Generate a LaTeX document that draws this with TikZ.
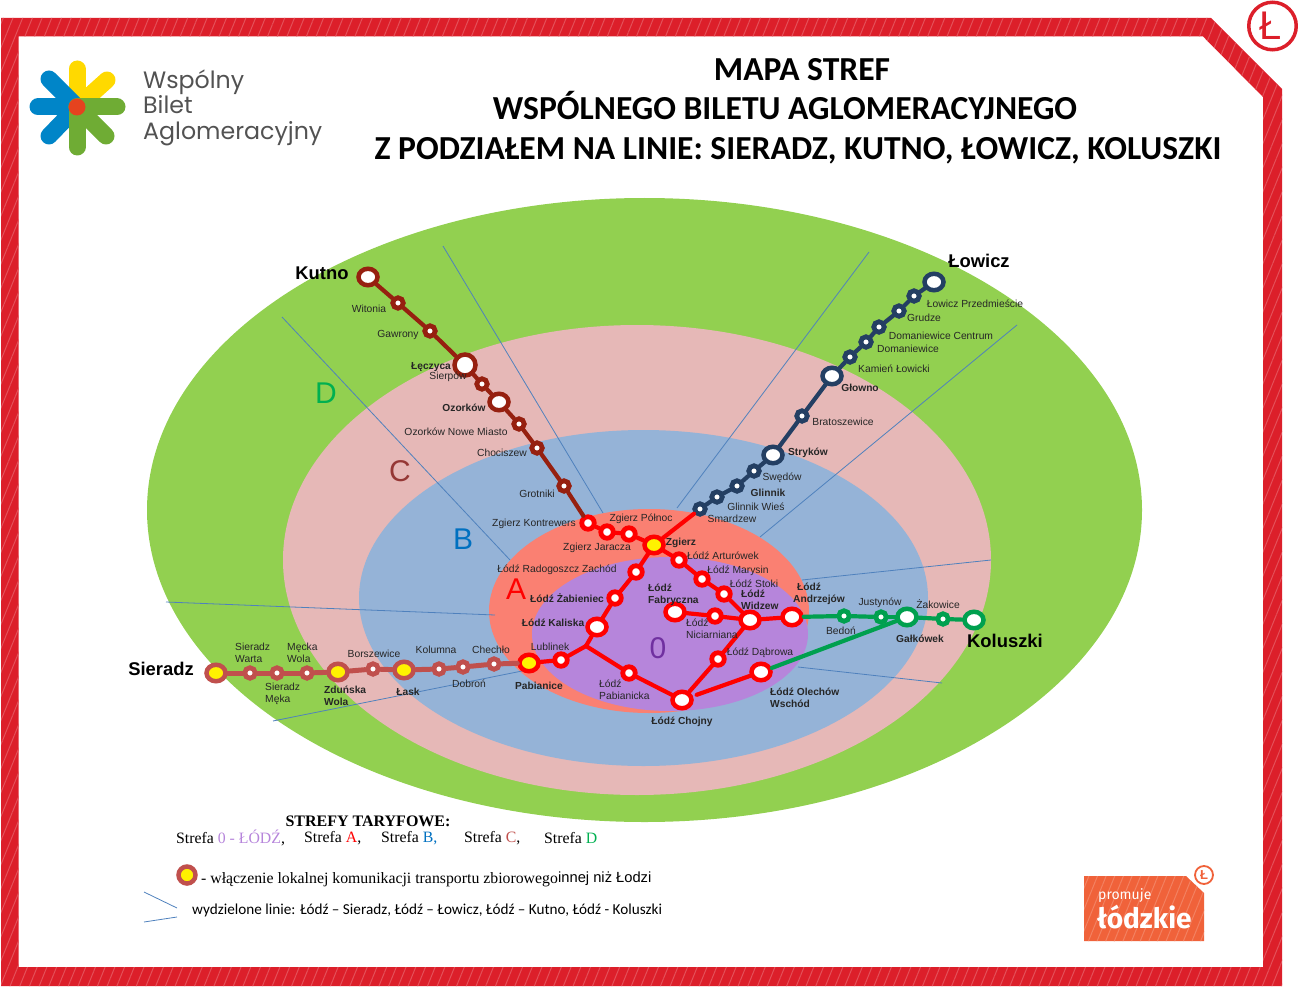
\documentclass[tikz,border=0pt]{standalone}
\usepackage{fontspec}
\setmainfont{Liberation Serif}
\setsansfont{Liberation Sans}
\newfontfamily\titlefont{Carlito}
\newfontfamily\logofont{Poppins}
\newfontfamily\badgefont{Fira Sans}
\usepackage{xcolor}
\definecolor{frameRed}{HTML}{DC1F2A}
\definecolor{zoneD}{HTML}{92D050}
\definecolor{zoneC}{HTML}{E6B8B7}
\definecolor{zoneB}{HTML}{95B3D7}
\definecolor{zoneA}{HTML}{FA8072}
\definecolor{zoneZero}{HTML}{B685DB}
\definecolor{sectorBlue}{HTML}{4F81BD}
\definecolor{kutnoRed}{HTML}{962010}
\definecolor{sieradzRed}{HTML}{C0504D}
\definecolor{lowiczBlue}{HTML}{243F63}
\definecolor{koluszkiGreen}{HTML}{00A04F}
\definecolor{badgeOrange}{HTML}{F0623A}
\definecolor{letterGreen}{HTML}{00B050}
\definecolor{letterRed}{HTML}{953735}
\definecolor{letterBlue}{HTML}{0070C0}
\definecolor{letterViolet}{HTML}{7030A0}
\definecolor{logoYellow}{HTML}{FFD900}
\definecolor{logoBlue}{HTML}{0085C8}
\definecolor{logoGreen}{HTML}{6FAC34}
\definecolor{logoHeartRed}{HTML}{E5431F}
\usetikzlibrary{shapes.geometric, patterns.meta}
\tikzset{
    % Zones - plain filled ellipses
    zone/.style={ellipse, fill=#1, inner sep=0pt},
    % Thin lines between the four corridors
    sector/.style={draw=sectorBlue, line width=0.8pt},
    % Stations - small ring and large ring
    stop/.style={circle, draw=#1, fill=white, line width=4.8pt, minimum size=10.5pt, inner sep=0pt},
    stopred/.style={circle, draw=red, fill=white, line width=4.8pt, minimum size=12.5pt, inner sep=0pt},
    hub/.style={ellipse, draw=#1, fill=white, line width=4.5pt, minimum width=19pt, minimum height=16.5pt, inner sep=0pt},
    hubyellow/.style={hub=#1, fill=yellow},
    % Tracks
    track/.style={draw=#1, line width=4.2pt, line cap=round},
    % Labels
    stoplabel/.style={font=\sffamily\fontsize{10.3}{11.8}\selectfont, text=black!85, inner sep=0pt, align=left},
    hublabel/.style={stoplabel, font=\sffamily\bfseries\fontsize{10.2}{12.4}\selectfont},
    citylabel/.style={font=\sffamily\bfseries\fontsize{18.4}{20}\selectfont, inner sep=0pt},
    zoneletter/.style={font=\sffamily\fontsize{30}{32}\selectfont, text=#1, inner sep=0pt},
    % Title and legend
    titleline/.style={font=\titlefont\bfseries\fontsize{33.6}{36}\selectfont, inner sep=0pt, anchor=base},
    legendtext/.style={font=\rmfamily\fontsize{15.8}{17}\selectfont, inner sep=0pt, anchor=west},
    logoline/.style={font=\logofont\fontsize{23.7}{26}\selectfont, text=black!68, inner sep=0pt, anchor=west},
    petal/.style={draw=#1, line width=17pt, line cap=round},
}
\begin{document}
\begin{tikzpicture}[x=1pt, y=-1pt]
    \useasboundingbox (0,0) rectangle (1298,987);

    % frame
    \fill [frameRed, even odd rule] (1,18) -- (1211,18) -- (1282,89) -- (1282,986) -- (1,986) -- cycle
        (18.5,36.5) -- (1203,36.5) -- (1263,97) -- (1263,967) -- (18.5,967) -- cycle;
    \fill [even odd rule, pattern={Lines[angle=68, distance=9pt, line width=1pt]}, pattern color=frameRed!78!white]
        (1,18) -- (1211,18) -- (1282,89) -- (1282,986) -- (1,986) -- cycle
        (18.5,36.5) -- (1203,36.5) -- (1263,97) -- (1263,967) -- (18.5,967) -- cycle;
    \node (cornerRing) [circle, draw=frameRed, line width=3.5pt, minimum size=47.5pt, inner sep=0pt] at (1272.5,26) {};
    \node (cornerMark) [font=\sffamily\fontsize{40}{42}\selectfont, text=frameRed, inner sep=0pt] at (1271,26) {Ł};

    % logo
    \foreach \px/\py in {77/69, 107/80} \draw [petal=logoYellow] (77,107) -- (\px,\py);
    \foreach \px/\py in {49/79, 38/107, 49/136} \draw [petal=logoBlue] (77,107) -- (\px,\py);
    \foreach \px/\py in {117/107, 106/136, 77/147} \draw [petal=logoGreen] (77,107) -- (\px,\py);
    \node (logoHeart) [circle, fill=logoHeartRed, minimum size=17pt, inner sep=0pt] at (77,107) {};
    \node (logoA) [logoline] at (143,82) {Wspólny};
    \node (logoB) [logoline] at (143,105) {Bilet};
    \node (logoC) [logoline] at (143,134) {Aglomeracyjny};

    % title
    \node (titleA) [titleline] at (802,81) {MAPA STREF};
    \node (titleB) [titleline] at (785,120) {WSPÓLNEGO BILETU AGLOMERACYJNEGO};
    \node (titleC) [titleline] at (798,160) {Z PODZIAŁEM NA LINIE: SIERADZ, KUTNO, ŁOWICZ, KOLUSZKI};

    % zones
    \node (zoneGreen) [zone=zoneD, minimum width=995pt, minimum height=624pt] at (644.5,510) {};
    \node (zonePink) [zone=zoneC, minimum width=708pt, minimum height=470pt] at (637,560) {};
    \node (zoneBlue) [zone=zoneB, minimum width=569pt, minimum height=336pt] at (643.5,598) {};
    \node (zoneSalmon) [zone=zoneA, minimum width=320pt, minimum height=204pt] at (649,611) {};
    \node (zonePurple) [zone=zoneZero, minimum width=276pt, minimum height=154pt] at (670,634) {};

    % sector lines
    \coordinate (sa) at (443,246); \coordinate (sb) at (603,513);
    \coordinate (sc) at (282,317); \coordinate (sd) at (510,560);
    \coordinate (se) at (869,252); \coordinate (sf) at (677,508);
    \coordinate (sg) at (1017,325); \coordinate (sh) at (760,537);
    \coordinate (si) at (166,602); \coordinate (sj) at (495,615);
    \coordinate (sk) at (273,721); \coordinate (sl) at (537,668);
    \coordinate (sm) at (991,560); \coordinate (sn) at (802,580);
    \coordinate (so) at (798,667); \coordinate (sp) at (942,683);
    \draw [sector] (sa) -- (sb);
    \draw [sector] (sc) -- (sd);
    \draw [sector] (se) -- (sf);
    \draw [sector] (sg) -- (sh);
    \draw [sector] (si) -- (sj);
    \draw [sector] (sk) -- (sl);
    \draw [sector] (sm) -- (sn);
    \draw [sector] (so) -- (sp);

    % zone letters
    \node (letterD) [zoneletter=letterGreen] at (326,393) {D};
    \node (letterC) [zoneletter=letterRed] at (400,471) {C};
    \node (letterB) [zoneletter=letterBlue] at (463,539) {B};
    \node (letterA) [zoneletter=red] at (516,589) {A};
    \node (letterZero) [zoneletter=letterViolet] at (658,648) {0};

    % Kutno line
    \node (kutno) [hub=kutnoRed] at (368,277) {};
    \node (witonia) [stop=kutnoRed] at (398,303) {};
    \node (gawrony) [stop=kutnoRed] at (430,331) {};
    \node (leczyca) [circle, draw=kutnoRed, fill=white, line width=4.5pt, minimum size=21pt, inner sep=0pt] at (465,365) {};
    \node (sierpow) [stop=kutnoRed] at (482,384) {};
    \node (ozorkow) [hub=kutnoRed] at (499,402) {};
    \node (ozorkowNowe) [stop=kutnoRed] at (519,424) {};
    \node (chociszew) [stop=kutnoRed] at (537,448) {};
    \node (grotniki) [stop=kutnoRed] at (564,486) {};

    % Lowicz line
    \node (lowicz) [hub=lowiczBlue] at (934,282) {};
    \node (przedmiescie) [stop=lowiczBlue] at (914,296) {};
    \node (grudze) [stop=lowiczBlue] at (899,311) {};
    \node (domCentrum) [stop=lowiczBlue] at (879,327) {};
    \node (domaniewice) [stop=lowiczBlue] at (866,342) {};
    \node (kamien) [stop=lowiczBlue] at (850,357) {};
    \node (glowno) [hub=lowiczBlue] at (832,376) {};
    \node (bratoszewice) [stop=lowiczBlue] at (802,416) {};
    \node (strykow) [hub=lowiczBlue] at (773,455) {};
    \node (swedow) [stop=lowiczBlue] at (754,471) {};
    \node (glinnik) [stop=lowiczBlue] at (737,486) {};
    \node (glinnikWies) [stop=lowiczBlue] at (717,497) {};
    \node (smardzew) [stop=lowiczBlue] at (700,509) {};

    % Sieradz line
    \node (sieradz) [hubyellow=sieradzRed] at (216,673) {};
    \node (warta) [stop=sieradzRed] at (250,673) {};
    \node (meka) [stop=sieradzRed] at (277,673) {};
    \node (meckaWola) [stop=sieradzRed] at (307,673) {};
    \node (zdunska) [hubyellow=sieradzRed] at (338,672) {};
    \node (borszewice) [stop=sieradzRed] at (373,669) {};
    \node (lask) [hubyellow=sieradzRed] at (404,670) {};
    \node (kolumna) [stop=sieradzRed] at (439,669) {};
    \node (dobron) [stop=sieradzRed] at (463,667) {};
    \node (chechlo) [stop=sieradzRed] at (494,664) {};

    % Koluszki line
    \node (bedon) [stop=koluszkiGreen] at (844,616) {};
    \node (justynow) [stop=koluszkiGreen] at (881,617) {};
    \node (galkowek) [hub=koluszkiGreen] at (907,617) {};
    \node (zakowice) [stop=koluszkiGreen] at (943,619) {};
    \node (koluszki) [hub=koluszkiGreen] at (974,620) {};

    % Lodz
    \node (kontrewers) [stopred] at (588,523) {};
    \node (polnocA) [stopred] at (607,532) {};
    \node (polnocB) [stopred] at (629,534) {};
    \node (zgierz) [hubyellow=red] at (654,545) {};
    \node (arturowek) [stopred] at (679,560) {};
    \node (marysin) [stopred] at (702,579) {};
    \node (stoki) [stopred] at (724,594) {};
    \node (widzew) [hub=red] at (750,620) {};
    \node (andrzejow) [hub=red] at (792,617) {};
    \node (fabryczna) [hub=red] at (675,612) {};
    \node (niciarniana) [stopred] at (715,616) {};
    \node (dabrowa) [stopred] at (718,659) {};
    \node (olechow) [hub=red] at (761,672) {};
    \node (chojny) [hub=red] at (682,700) {};
    \node (pabianicka) [stopred] at (629,673) {};
    \node (kaliska) [hub=red] at (597,627) {};
    \node (zabieniec) [stopred] at (615,598) {};
    \node (radogoszcz) [stopred] at (636,572) {};
    \coordinate (kaliskaFork) at (586,646);
    \node (lublinek) [stopred] at (561,660) {};
    \node (pabianice) [hubyellow=red] at (529,663) {};

    % tracks
    \draw [track=kutnoRed] (kutno) -- (witonia);
    \draw [track=kutnoRed] (witonia) -- (gawrony);
    \draw [track=kutnoRed] (gawrony) -- (leczyca);
    \draw [track=kutnoRed] (leczyca) -- (sierpow);
    \draw [track=kutnoRed] (sierpow) -- (ozorkow);
    \draw [track=kutnoRed] (ozorkow) -- (ozorkowNowe);
    \draw [track=kutnoRed] (ozorkowNowe) -- (chociszew);
    \draw [track=kutnoRed] (chociszew) -- (grotniki);
    \draw [track=kutnoRed] (grotniki) -- (kontrewers);
    \draw [track=lowiczBlue] (lowicz) -- (przedmiescie);
    \draw [track=lowiczBlue] (przedmiescie) -- (grudze);
    \draw [track=lowiczBlue] (grudze) -- (domCentrum);
    \draw [track=lowiczBlue] (domCentrum) -- (domaniewice);
    \draw [track=lowiczBlue] (domaniewice) -- (kamien);
    \draw [track=lowiczBlue] (kamien) -- (glowno);
    \draw [track=lowiczBlue] (glowno) -- (bratoszewice);
    \draw [track=lowiczBlue] (bratoszewice) -- (strykow);
    \draw [track=lowiczBlue] (strykow) -- (swedow);
    \draw [track=lowiczBlue] (swedow) -- (glinnik);
    \draw [track=lowiczBlue] (glinnik) -- (glinnikWies);
    \draw [track=lowiczBlue] (glinnikWies) -- (smardzew);
    \draw [track=sieradzRed, line width=5pt] (sieradz) -- (warta);
    \draw [track=sieradzRed, line width=5pt] (warta) -- (meka);
    \draw [track=sieradzRed, line width=5pt] (meka) -- (meckaWola);
    \draw [track=sieradzRed, line width=5pt] (meckaWola) -- (zdunska);
    \draw [track=sieradzRed, line width=5pt] (zdunska) -- (borszewice);
    \draw [track=sieradzRed, line width=5pt] (borszewice) -- (lask);
    \draw [track=sieradzRed, line width=5pt] (lask) -- (kolumna);
    \draw [track=sieradzRed, line width=5pt] (kolumna) -- (dobron);
    \draw [track=sieradzRed, line width=5pt] (dobron) -- (chechlo);
    \draw [track=sieradzRed, line width=5pt] (chechlo) -- (pabianice);
    \draw [track=koluszkiGreen] (andrzejow) -- (bedon);
    \draw [track=koluszkiGreen] (bedon) -- (justynow);
    \draw [track=koluszkiGreen] (justynow) -- (galkowek);
    \draw [track=koluszkiGreen] (galkowek) -- (zakowice);
    \draw [track=koluszkiGreen] (zakowice) -- (koluszki);
    \draw [track=koluszkiGreen] (olechow) -- (galkowek);
    \draw [track=red] (kontrewers) -- (polnocA);
    \draw [track=red] (polnocA) -- (polnocB);
    \draw [track=red] (polnocB) -- (zgierz);
    \draw [track=red] (zgierz) -- (smardzew);
    \draw [track=red] (zgierz) -- (arturowek);
    \draw [track=red] (arturowek) -- (marysin);
    \draw [track=red] (marysin) -- (stoki);
    \draw [track=red] (stoki) -- (widzew);
    \draw [track=red] (widzew) -- (andrzejow);
    \draw [track=red] (fabryczna) -- (niciarniana);
    \draw [track=red] (niciarniana) -- (widzew);
    \draw [track=red] (widzew) -- (dabrowa);
    \draw [track=red] (dabrowa) -- (chojny);
    \draw [track=red, shorten <=4pt] (chojny) -- (olechow);
    \draw [track=red] (zgierz) -- (radogoszcz);
    \draw [track=red] (radogoszcz) -- (zabieniec);
    \draw [track=red] (zabieniec) -- (kaliska);
    \draw [track=red] (kaliska) -- (kaliskaFork);
    \draw [track=red] (pabianice) -- (lublinek);
    \draw [track=red] (lublinek) -- (kaliskaFork);
    \draw [track=red] (kaliskaFork) -- (pabianicka);
    \draw [track=red] (pabianicka) -- (chojny);

    % cities
    \node (lblKutno) [citylabel] at (322,273) {Kutno};
    \node (lblLowicz) [citylabel] at (979,261) {Łowicz};
    \node (lblSieradz) [citylabel] at (161,669) {Sieradz};
    \node (lblKoluszki) [citylabel] at (1005,641) {Koluszki};

    % labels, Kutno line
    \node (lblWitonia) [stoplabel] at (369,309) {Witonia};
    \node (lblGawrony) [stoplabel] at (398,335) {Gawrony};
    \node (lblSierpow) [stoplabel] at (448,377) {Sierpów};
    \node (lblLeczyca) [hublabel] at (431,367) {Łęczyca};
    \node (lblOzorkow) [hublabel] at (464,408) {Ozorków};
    \node (lblOzorkowNowe) [stoplabel] at (456,432) {Ozorków Nowe Miasto};
    \node (lblChociszew) [stoplabel] at (502,453) {Chociszew};
    \node (lblGrotniki) [stoplabel] at (537,494) {Grotniki};

    % labels, Lowicz line
    \node (lblPrzedmiescie) [stoplabel] at (975,304) {Łowicz Przedmieście};
    \node (lblGrudze) [stoplabel] at (924,318) {Grudze};
    \node (lblDomCentrum) [stoplabel] at (941,336) {Domaniewice Centrum};
    \node (lblDomaniewice) [stoplabel] at (908,349) {Domaniewice};
    \node (lblKamien) [stoplabel] at (894,369) {Kamień Łowicki};
    \node (lblGlowno) [hublabel] at (860,388) {Głowno};
    \node (lblBratoszewice) [stoplabel] at (843,422) {Bratoszewice};
    \node (lblStrykow) [hublabel] at (808,453) {Stryków};
    \node (lblSwedow) [stoplabel] at (782,478) {Swędów};
    \node (lblGlinnik) [hublabel] at (768,493) {Glinnik};
    \node (lblGlinnikWies) [stoplabel] at (756,507) {Glinnik Wieś};
    \node (lblSmardzew) [stoplabel] at (732,519) {Smardzew};

    % labels, Sieradz line
    \node (lblWarta) [stoplabel, anchor=west] at (235,653) {Sieradz\\Warta};
    \node (lblMeckaWola) [stoplabel, anchor=west] at (287,653) {Męcka\\Wola};
    \node (lblMeka) [stoplabel, anchor=west] at (265,694) {Sieradz\\Męka};
    \node (lblZdunska) [hublabel, anchor=west] at (324,696) {Zduńska\\Wola};
    \node (lblBorszewice) [stoplabel] at (374,654) {Borszewice};
    \node (lblKolumna) [stoplabel] at (436,650) {Kolumna};
    \node (lblChechlo) [stoplabel] at (491,650) {Chechło};
    \node (lblDobron) [stoplabel] at (469,684) {Dobroń};
    \node (lblLask) [hublabel] at (408,692) {Łask};

    % labels, Koluszki line
    \node (lblJustynow) [stoplabel] at (880,603) {Justynów};
    \node (lblBedon) [stoplabel] at (841,631) {Bedoń};
    \node (lblZakowice) [stoplabel] at (938,604) {Żakowice};
    \node (lblGalkowek) [hublabel] at (920,639) {Gałkówek};

    % labels, Lodz
    \node (lblKontrewers) [stoplabel] at (534,524) {Zgierz Kontrewers};
    \node (lblPolnoc) [stoplabel] at (641,519) {Zgierz Północ};
    \node (lblJaracza) [stoplabel] at (597,548) {Zgierz Jaracza};
    \node (lblZgierz) [hublabel] at (681,543) {Zgierz};
    \node (lblArturowek) [stoplabel] at (723,556) {Łódź Arturówek};
    \node (lblMarysin) [stoplabel] at (738,571) {Łódź Marysin};
    \node (lblStoki) [stoplabel] at (754,584) {Łódź Stoki};
    \node (lblWidzew) [hublabel, anchor=west] at (741,600) {Łódź\\Widzew};
    \node (lblAndrzejow) [hublabel, anchor=west] at (793,594) {\hspace*{4pt}Łódź\\Andrzejów};
    \node (lblRadogoszcz) [stoplabel] at (557,570) {Łódź Radogoszcz Zachód};
    \node (lblZabieniec) [hublabel] at (567,598) {Łódź Żabieniec};
    \node (lblKaliska) [hublabel] at (553,623) {Łódź Kaliska};
    \node (lblFabryczna) [hublabel, anchor=west] at (648,595) {Łódź\\Fabryczna};
    \node (lblNiciarniana) [stoplabel, anchor=west] at (686,629) {Łódź\\Niciarniana};
    \node (lblLublinek) [stoplabel] at (550,647) {Lublinek};
    \node (lblPabianice) [hublabel] at (539,686) {Pabianice};
    \node (lblPabianicka) [stoplabel, anchor=west] at (599,690) {Łódź\\Pabianicka};
    \node (lblChojny) [hublabel] at (682,722) {Łódź Chojny};
    \node (lblDabrowa) [stoplabel] at (760,653) {Łódź Dąbrowa};
    \node (lblOlechow) [hublabel, anchor=west] at (770,698) {Łódź Olechów\\Wschód};

    % legend
    \node (legendHead) [legendtext, font=\rmfamily\bfseries\fontsize{16}{18}\selectfont, anchor=center] at (368,821) {STREFY TARYFOWE:};
    \node (legendZero) [legendtext] at (176,838) {Strefa \textcolor{zoneZero}{0 - ŁÓDŹ},};
    \node (legendA) [legendtext] at (304,838) {Strefa \textcolor{red}{A},};
    \node (legendB) [legendtext] at (381,838) {Strefa \textcolor{letterBlue}{B,}};
    \node (legendC) [legendtext] at (464,838) {Strefa \textcolor{sieradzRed}{C},};
    \node (legendD) [legendtext] at (544,838) {Strefa \textcolor{letterGreen}{D}};
    \node (legendStop) [circle, draw=sieradzRed, fill=yellow, line width=4.5pt, minimum size=17pt, inner sep=0pt] at (187,875) {};
    \node (legendStopText) [legendtext] at (201,880) {- włączenie lokalnej komunikacji transportu zbiorowego};
    \node (legendOther) [legendtext, font=\sffamily\fontsize{14.7}{16}\selectfont] at (558,879) {innej niż Łodzi};
    \coordinate (keyA) at (144,892); \coordinate (keyB) at (177,908);
    \coordinate (keyC) at (144,922); \coordinate (keyD) at (177,917);
    \draw [sector] (keyA) -- (keyB);
    \draw [sector] (keyC) -- (keyD);
    \node (legendLines) [legendtext, font=\titlefont\fontsize{15.2}{17}\selectfont] at (192,910) {wydzielone linie: Łódź – Sieradz, Łódź – Łowicz, Łódź – Kutno, Łódź - Koluszki};

    % badge
    \fill [badgeOrange] (1084,876) -- (1186,876) -- (1204,893) -- (1204,941) -- (1084,941) -- cycle;
    \fill [pattern={Lines[angle=68, distance=8pt, line width=1pt]}, pattern color=badgeOrange!80!white]
        (1084,876) -- (1186,876) -- (1204,893) -- (1204,941) -- (1084,941) -- cycle;
    \node (badgeA) [font=\badgefont\fontsize{14}{16}\selectfont, text=white, inner sep=0pt, anchor=west] at (1098,896) {promuje};
    \node (badgeB) [font=\badgefont\bfseries\fontsize{28}{30}\selectfont, text=white, inner sep=0pt, anchor=west] at (1097,917) {łódzkie};
    \node (badgeRing) [circle, draw=badgeOrange, fill=white, line width=1.8pt, minimum size=18pt, inner sep=0pt] at (1204,875) {};
    \node (badgeMark) [font=\sffamily\bfseries\fontsize{13}{15}\selectfont, text=badgeOrange, inner sep=0pt] at (1204,875) {Ł};
\end{tikzpicture}
\end{document}
